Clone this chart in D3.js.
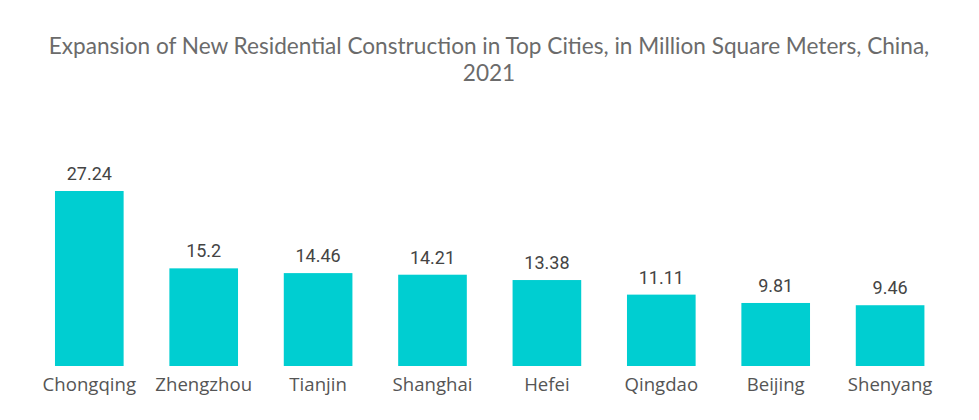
<!DOCTYPE html>
<html><head><meta charset="utf-8">
<script src="https://cdn.jsdelivr.net/npm/d3@7"></script>
<style>body{margin:0;background:#fff;}</style>
</head><body><svg id="c" width="979" height="420"></svg>
<script>
const categories = ["Chongqing","Zhengzhou","Tianjin","Shanghai","Hefei","Qingdao","Beijing","Shenyang"];
const values = [27.24,15.2,14.46,14.21,13.38,11.11,9.81,9.46];
const valueLabels = ["27.24","15.2","14.46","14.21","13.38","11.11","9.81","9.46"];
const titleLines = ["Expansion of New Residential Construction in Top Cities, in Million Square Meters, China,","2021"];

const svg = d3.select("#c");
const x = d3.scaleBand().domain(categories).range([32.1, 947.3]).paddingInner(0.4).paddingOuter(0.2);
const y = d3.scaleLinear().domain([0, 27.24]).range([366, 191]);

svg.append("g").selectAll("text").data(titleLines).join("text")
  .attr("x", 489).attr("y", (d,i)=>54 + i*27)
  .attr("text-anchor","middle").attr("font-family","Lato, sans-serif")
  .attr("font-size", 22.6).attr("fill","#6b6b6b").text(d=>d);

svg.append("g").selectAll("rect").data(values).join("rect")
  .attr("x",(d,i)=>x(categories[i])).attr("width",x.bandwidth())
  .attr("y",d=>y(d)).attr("height",d=>y(0)-y(d)).attr("fill","#00ced1");

svg.append("g").selectAll("text").data(values).join("text")
  .attr("x",(d,i)=>x(categories[i])+x.bandwidth()/2).attr("y",d=>y(d)-11)
  .attr("text-anchor","middle").attr("font-family","Roboto, sans-serif")
  .attr("font-size",18).attr("fill","#444").text((d,i)=>valueLabels[i]);

const xAxis = d3.axisBottom(x).tickSize(0).tickPadding(12);
const ax = svg.append("g").attr("transform","translate(0,366)").call(xAxis);
ax.select(".domain").remove();
ax.selectAll("text").attr("font-family","'Open Sans', sans-serif").attr("font-size",18.6).attr("fill","#555");
</script></body></html>
